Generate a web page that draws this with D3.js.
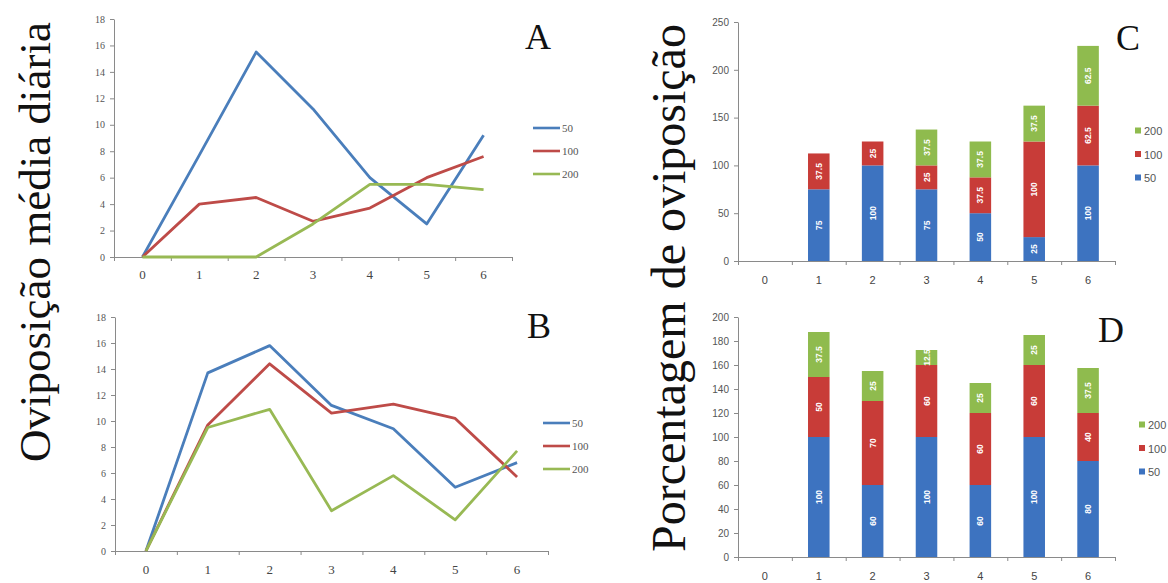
<!DOCTYPE html>
<html>
<head>
<meta charset="utf-8">
<script src="https://cdn.jsdelivr.net/npm/d3@7"></script>
<style>
  html, body { margin: 0; padding: 0; background: #fff; }
  svg { display: block; }
</style>
</head>
<body>
<svg id="chart" width="1168" height="583"></svg>
<script>
// ---- data ----
const days = [0, 1, 2, 3, 4, 5, 6];
const doses = ["50", "100", "200"];

// Panel A: mean daily oviposition per dose
const lineA50  = [0, 7.7, 15.5, 11.2, 6.0, 2.5, 9.2];
const lineA100 = [0, 4.0, 4.5, 2.7, 3.7, 6.0, 7.6];
const lineA200 = [0, 0, 0, 2.5, 5.5, 5.5, 5.1];

// Panel B
const lineB50  = [0, 13.7, 15.8, 11.2, 9.4, 4.9, 6.8];
const lineB100 = [0, 9.7, 14.4, 10.6, 11.3, 10.2, 5.7];
const lineB200 = [0, 9.5, 10.9, 3.1, 5.8, 2.4, 7.7];

// Panel C: oviposition percentage (stacked)
const pctC50  = [0, 75, 100, 75, 50, 25, 100];
const pctC100 = [0, 37.5, 25, 25, 37.5, 100, 62.5];
const pctC200 = [0, 0, 0, 37.5, 37.5, 37.5, 62.5];

// Panel D
const pctD50  = [0, 100, 60, 100, 60, 100, 80];
const pctD100 = [0, 50, 70, 60, 60, 60, 40];
const pctD200 = [0, 37.5, 25, 12.5, 25, 25, 37.5];

const ticksAB = [0, 2, 4, 6, 8, 10, 12, 14, 16, 18];
const ticksC = [0, 50, 100, 150, 200, 250];
const ticksD = [0, 20, 40, 60, 80, 100, 120, 140, 160, 180, 200];

// ---- styles ----
const lineColors = { "50": "#4a7ebb", "100": "#be4b48", "200": "#98b954" };
const barColors  = { "50": "#3d73c0", "100": "#c83c38", "200": "#8fbb4e" };
const axisColor = "#8a8a8a";
const serif = "'Liberation Serif', 'Times New Roman', serif";
const sans = "'Liberation Sans', Arial, sans-serif";

const svg = d3.select("#chart");

function styleAxis(g) {
  g.attr("font-family", null);
  g.select(".domain").attr("stroke", axisColor).attr("stroke-width", 1);
  g.selectAll(".tick line").attr("stroke", axisColor);
}

function drawFrame(p) {
  const x = d3.scaleBand().domain(days).range([p.x0, p.x1]);
  const y = d3.scaleLinear().domain([0, p.ymax]).range([p.yb, p.yt]);

  const gy = svg.append("g")
    .attr("transform", `translate(${p.x0},0)`)
    .call(d3.axisLeft(y).tickValues(p.ticks).tickSize(4).tickSizeOuter(0).tickPadding(5))
    .call(styleAxis);
  gy.selectAll(".tick text")
    .style("font-family", p.tickFont).attr("font-size", p.tickSize).attr("fill", "#555");

  // boundary ticks along the category axis
  const xb = d3.scaleLinear().domain([0, days.length]).range([p.x0, p.x1]);
  svg.append("g")
    .attr("transform", `translate(0,${p.yb})`)
    .call(d3.axisBottom(xb).ticks(days.length).tickFormat("").tickSize(4).tickSizeOuter(0))
    .call(styleAxis);

  // category labels
  const gx = svg.append("g")
    .attr("transform", `translate(0,${p.yb})`)
    .call(d3.axisBottom(x).tickSize(0).tickPadding(p.xPad));
  gx.attr("font-family", null);
  gx.select(".domain").remove();
  gx.selectAll(".tick text")
    .style("font-family", p.tickFont).attr("font-size", p.xSize).attr("fill", "#444");
  return { x, y };
}

function drawLinePanel(p, series) {
  const { x, y } = drawFrame(p);
  const line = d3.line()
    .x((d, i) => x(days[i]) + x.bandwidth() / 2)
    .y(d => y(d));
  series.forEach((s, k) => {
    svg.append("path")
      .datum(s)
      .attr("d", line)
      .attr("fill", "none")
      .attr("stroke", lineColors[doses[k]])
      .attr("stroke-width", 2.8)
      .attr("stroke-linejoin", "round");
  });
  // legend
  doses.forEach((d, k) => {
    const ly = p.legY + k * 23;
    svg.append("line")
      .attr("x1", p.legX).attr("x2", p.legX + 27)
      .attr("y1", ly).attr("y2", ly)
      .attr("stroke", lineColors[d]).attr("stroke-width", 2.6);
    svg.append("text")
      .attr("x", p.legX + 29).attr("y", ly + 4)
      .style("font-family", serif).attr("font-size", 11).attr("fill", "#555")
      .text(d);
  });
  svg.append("text")
    .attr("x", p.lx).attr("y", p.ly)
    .attr("text-anchor", "middle")
    .style("font-family", serif).attr("font-size", 36).attr("fill", "#111")
    .text(p.letter);
}

function drawBarPanel(p, series) {
  const { x, y } = drawFrame(p);
  const bw = x.bandwidth() * 0.4;
  const rows = days.map((d, i) => {
    const r = { day: d };
    doses.forEach((k, j) => r[k] = series[j][i]);
    return r;
  });
  const stacked = d3.stack().keys(doses)(rows);
  stacked.forEach(layer => {
    const key = layer.key;
    const g = svg.append("g");
    layer.forEach((seg, i) => {
      const v = seg[1] - seg[0];
      if (v <= 0) return;
      const cx = x(days[i]) + x.bandwidth() / 2;
      g.append("rect")
        .attr("x", cx - bw / 2).attr("width", bw)
        .attr("y", y(seg[1])).attr("height", y(seg[0]) - y(seg[1]))
        .attr("fill", barColors[key]);
      const cy = (y(seg[0]) + y(seg[1])) / 2;
      g.append("text")
        .attr("transform", `translate(${cx + 3},${cy}) rotate(-90)`)
        .attr("text-anchor", "middle")
        .style("font-family", sans).attr("font-size", 8.5).attr("font-weight", "bold")
        .attr("fill", "#fff")
        .text(String(v));
    });
  });
  // legend (square markers, top entry = last series)
  doses.slice().reverse().forEach((d, k) => {
    const ly = p.legY + k * 23.5;
    svg.append("rect")
      .attr("x", p.legX).attr("y", ly - 3.5).attr("width", 6).attr("height", 6)
      .attr("fill", barColors[d]);
    svg.append("text")
      .attr("x", p.legX + 9).attr("y", ly + 4)
      .style("font-family", sans).attr("font-size", 11).attr("fill", "#555")
      .text(d);
  });
  svg.append("text")
    .attr("x", p.lx).attr("y", p.ly)
    .attr("text-anchor", "middle")
    .style("font-family", serif).attr("font-size", 36).attr("fill", "#111")
    .text(p.letter);
}

drawLinePanel({
  x0: 114, x1: 512, yb: 257, yt: 19, ymax: 18, ticks: ticksAB,
  tickFont: serif, tickSize: 10, xSize: 13, xPad: 13,
  legX: 533, legY: 128, letter: "A", lx: 538, ly: 49
}, [lineA50, lineA100, lineA200]);

drawLinePanel({
  x0: 115, x1: 548, yb: 551, yt: 317, ymax: 18, ticks: ticksAB,
  tickFont: serif, tickSize: 10, xSize: 13, xPad: 14,
  legX: 543, legY: 423, letter: "B", lx: 539, ly: 338
}, [lineB50, lineB100, lineB200]);

drawBarPanel({
  x0: 738, x1: 1115, yb: 261, yt: 22, ymax: 250, ticks: ticksC,
  tickFont: sans, tickSize: 10, xSize: 11, xPad: 15,
  legX: 1135, legY: 131, letter: "C", lx: 1128, ly: 50
}, [pctC50, pctC100, pctC200]);

drawBarPanel({
  x0: 738, x1: 1115, yb: 557, yt: 317, ymax: 200, ticks: ticksD,
  tickFont: sans, tickSize: 10, xSize: 11, xPad: 15,
  legX: 1139, legY: 425, letter: "D", lx: 1111, ly: 342
}, [pctD50, pctD100, pctD200]);

// shared axis titles
svg.append("text")
  .attr("transform", "translate(50,242) rotate(-90)")
  .attr("text-anchor", "middle")
  .style("font-family", serif).attr("font-size", 45).attr("fill", "#111")
  .text("Oviposição média diária");

svg.append("text")
  .attr("transform", "translate(685,288) rotate(-90)")
  .attr("text-anchor", "middle")
  .style("font-family", serif).attr("font-size", 48).attr("fill", "#111")
  .text("Porcentagem de oviposição");
</script>
</body>
</html>
